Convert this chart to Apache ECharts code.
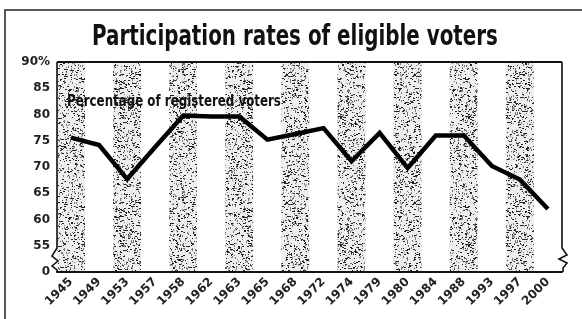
<!DOCTYPE html>
<html>
<head>
<meta charset="utf-8">
<title>Participation rates of eligible voters</title>
<script src="https://cdn.jsdelivr.net/npm/echarts@6/dist/echarts.min.js"></script>
<style>
  html, body { margin: 0; padding: 0; background: #fff; }
  #chart { width: 582px; height: 319px; }
</style>
</head>
<body>
<div id="chart"></div>
<script>
// data
var years = ['1945', '1949', '1953', '1957', '1958', '1962', '1963', '1965', '1968',
             '1972', '1974', '1979', '1980', '1984', '1988', '1993', '1997', '2000'];
var turnout = [75.6, 74.2, 67.7, 73.8, 79.8, 79.6, 79.6, 75.2, 76.3,
               77.4, 71.1, 76.5, 69.8, 76.0, 76.0, 70.2, 67.6, 62.0];
var yTicks = [50, 55, 60, 65, 70, 75, 80, 85, 90];   // 50 stands for the broken "0"

// plot box in px
var G = { left: 57, right: 20, top: 62, bottom: 47 };
var W = 582, H = 319;
var px0 = G.left, px1 = W - G.right, py0 = G.top, py1 = H - G.bottom;

// stipple texture for the shaded columns (newsprint grain, fixed seed)
function stipple() {
  var n = 128;
  var c = document.createElement('canvas');
  c.width = n; c.height = n;
  var ctx = c.getContext('2d');
  ctx.fillStyle = '#eeeeee';
  ctx.fillRect(0, 0, n, n);
  var a = 987654321;
  function next() {
    a |= 0; a = a + 0x6D2B79F5 | 0;
    var t = Math.imul(a ^ a >>> 15, 1 | a);
    t = t + Math.imul(t ^ t >>> 7, 61 | t) ^ t;
    return ((t ^ t >>> 14) >>> 0) / 4294967296;
  }
  for (var i = 0; i < 2600; i++) {
    var x = Math.floor(next() * n), y = Math.floor(next() * n);
    var k = next();
    ctx.fillStyle = k < 0.55 ? '#222' : '#777';
    ctx.fillRect(x, y, k < 0.3 ? 2 : 1, k > 0.8 ? 2 : 1);
  }
  return c;
}

var font = "'DejaVu Sans', 'Liberation Sans', sans-serif";

var chart = echarts.init(document.getElementById('chart'), null, { renderer: 'canvas' });

var option = {
  backgroundColor: '#fff',
  animation: false,
  grid: { left: G.left, right: G.right, top: G.top, bottom: G.bottom },
  xAxis: {
    type: 'category',
    data: years,
    boundaryGap: true,
    axisLine: { show: true, lineStyle: { color: '#111', width: 2 } },
    axisTick: { show: false },
    axisLabel: {
      rotate: 45, margin: 8, color: '#222', fontSize: 12,
      fontFamily: font, fontWeight: 'bold'
    },
    splitArea: {
      show: true,
      areaStyle: { color: [{ image: stipple(), repeat: 'repeat' }, '#fff'] }
    }
  },
  yAxis: {
    type: 'value',
    min: 50, max: 90, interval: 5,
    axisLine: { show: false },
    axisTick: { show: false },
    axisLabel: {
      margin: 7, color: '#222', fontSize: 12, fontFamily: font, fontWeight: 'bold',
      formatter: function (v) {
        if (v === yTicks[0]) return '0';
        if (v === yTicks[yTicks.length - 1]) return v + '%';
        return String(v);
      }
    },
    splitLine: {
      show: true,
      lineStyle: { color: '#222', width: 1.2, type: [8, 3] }
    }
  },
  series: [{
    type: 'line',
    data: turnout,
    symbol: 'none',
    lineStyle: { color: '#000', width: 4.5, join: 'miter' },
    z: 5
  }],
  graphic: [
    // condensed headline
    { type: 'text', x: 295, y: 38, scaleX: 0.71,
      style: { text: 'Participation rates of eligible voters', fill: '#111',
               font: 'bold 28px ' + font, textAlign: 'center', textVerticalAlign: 'middle' } },
    // frame top
    { type: 'line', shape: { x1: px0, y1: py0, x2: px1, y2: py0 },
      style: { stroke: '#111', lineWidth: 2 }, z: 10 },
    // left edge with break
    { type: 'polyline', shape: { points: [[px0, py0], [px0, py1 - 24], [px0 - 5, py1 - 16],
        [px0 + 1, py1 - 11], [px0 - 5, py1 - 6], [px0, py1 - 2], [px0, py1]] },
      style: { stroke: '#111', lineWidth: 1.6, fill: null }, z: 10 },
    // right edge with break
    { type: 'polyline', shape: { points: [[px1, py0], [px1, py1 - 24], [px1 + 5, py1 - 17],
        [px1 - 3, py1 - 13], [px1 + 5, py1 - 9], [px1 + 1, py1 - 4], [px1 + 1, py1]] },
      style: { stroke: '#111', lineWidth: 1.6, fill: null }, z: 10 },
    // in-plot label
    { type: 'text', x: 67, y: 102, scaleX: 0.79,
      style: { text: 'Percentage of registered voters', fill: '#111',
               font: 'bold 15px ' + font, textVerticalAlign: 'middle' }, z: 12 },
    // outer box of the clipping
    { type: 'polyline', shape: { points: [[5, H], [5, 10], [W, 10]] },
      style: { stroke: '#222', lineWidth: 1.5, fill: null } }
  ]
};

chart.setOption(option);
window.addEventListener('resize', chart.resize);
</script>
</body>
</html>
